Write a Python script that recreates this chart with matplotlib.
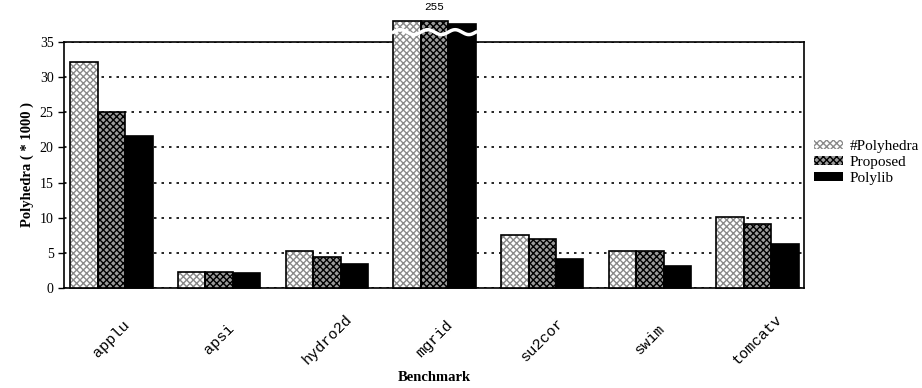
import numpy as np
import matplotlib
matplotlib.use("Agg")
import matplotlib.pyplot as plt

categories = ["applu", "apsi", "hydro2d", "mgrid", "su2cor", "swim", "tomcatv"]
polyhedra = [32.1, 2.3, 5.3, 255.0, 7.5, 5.3, 10.1]
proposed = [25.0, 2.3, 4.4, 255.0, 7.0, 5.3, 9.1]
polylib = [21.6, 2.1, 3.4, 255.0, 4.1, 3.1, 6.3]
series_names = ["#Polyhedra", "Proposed", "Polylib"]
yticks = [0, 5, 10, 15, 20, 25, 30, 35]

serif = ["Liberation Serif", "DejaVu Serif"]
mono = ["Liberation Mono", "DejaVu Sans Mono"]

fig = plt.figure(figsize=(9.22, 3.88), dpi=100)
ax = fig.add_axes([0.0694, 0.2577, 0.8026, 0.6341])

ymax = 35
cap = [38.0, 38.0, 37.6]
x = np.arange(len(categories))
w = 0.255
styles = [
    dict(face="white", hatch_col="#8a8a8a", hatch="xxxxx"),
    dict(face="#9a9a9a", hatch_col="black", hatch="xxxxx"),
    dict(face="black", hatch_col="black", hatch=None),
]
handles = []
for i, (vals, st) in enumerate(zip([polyhedra, proposed, polylib], styles)):
    h = [min(v, cap[i]) for v in vals]
    pos = x + (i - 1) * w
    b = ax.bar(pos, h, w, color=st["face"], edgecolor=st["hatch_col"],
               hatch=st["hatch"], linewidth=0, clip_on=False, zorder=3)
    ax.bar(pos, h, w, fill=False, edgecolor="black", linewidth=1.2,
           clip_on=False, zorder=4)
    handles.append(b)

# break marks for clipped bars (mgrid)
for j, v in enumerate(polyhedra):
    if v > ymax:
        xs = np.linspace(x[j] - 1.5 * w, x[j] + 1.5 * w, 200)
        ys = 36.4 + 0.35 * np.sin((xs - xs[0]) / (3 * w) * 2 * np.pi * 3)
        ax.plot(xs, ys, color="white", lw=2.5, clip_on=False, zorder=5)
        ax.text(x[j], 39.3, f"{v:g}", ha="center", va="bottom",
                fontsize=8, family=mono)

ax.set_xlim(-0.44, 6.43)
ax.set_ylim(0, ymax)
ax.set_yticks(yticks)
ax.set_yticklabels([str(t) for t in yticks], family=serif, fontsize=10)
ax.yaxis.grid(True, linestyle=(0, (1.5, 3)), color="black", linewidth=1.2, zorder=1)
ax.set_axisbelow(True)
ax.tick_params(axis="y", length=4, width=1, direction="out")
ax.tick_params(axis="x", length=0, pad=37)
ax.set_xticks(x)
ax.set_xticklabels(categories, rotation=45, ha="center", va="center",
                   fontsize=11, family=mono, rotation_mode="anchor")
for s in ax.spines.values():
    s.set_linewidth(1.2)
    s.set_color("black")

ax.set_ylabel("Polyhedra ( * 1000 )", family=serif, fontsize=10.5, fontweight="bold")
ax.set_xlabel("Benchmark", family=serif, fontsize=10.5, fontweight="bold", labelpad=3)

leg = fig.legend(handles, series_names, loc="center left",
                 bbox_to_anchor=(0.883, 0.582), frameon=False,
                 prop={"family": serif, "size": 11}, handlelength=1.9,
                 handleheight=0.5, handletextpad=0.45, labelspacing=0.2,
                 borderaxespad=0, borderpad=0)

fig.savefig("out.png", dpi=100)
